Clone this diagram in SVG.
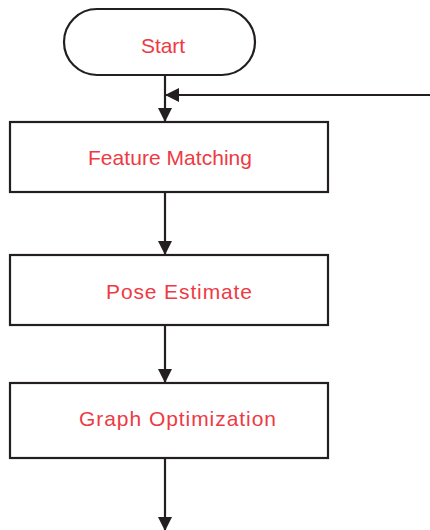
<svg xmlns="http://www.w3.org/2000/svg" width="430" height="530" viewBox="0 0 430 530">
<style>
.box{fill:#fff;stroke:#231f20;stroke-width:2.2}
.lbl{font-family:"Liberation Sans",Arial,sans-serif;font-size:21px;fill:#ee3a43;text-anchor:middle}
.edge{fill:none;stroke:#231f20;stroke-width:2.2}
</style>
<defs>
<marker id="ah" markerUnits="userSpaceOnUse" markerWidth="14" markerHeight="14" viewBox="0 0 14 14" refX="13" refY="7" orient="auto">
<path d="M0,0 L14,7 L0,14 Z" fill="#231f20"/>
</marker>
</defs>
<rect width="430" height="530" fill="#fff"/>
<g id="start">
<rect class="box" x="64" y="9" width="191" height="66" rx="33" ry="33"/>
<text class="lbl" x="163" y="53" textLength="44" lengthAdjust="spacing">Start</text>
</g>
<g id="feature-matching">
<rect class="box" x="10" y="122" width="318" height="70"/>
<text class="lbl" x="170" y="165" textLength="164" lengthAdjust="spacing">Feature Matching</text>
</g>
<g id="pose-estimate">
<rect class="box" x="10" y="255" width="318" height="70"/>
<text class="lbl" x="179" y="299" textLength="146" lengthAdjust="spacing">Pose Estimate</text>
</g>
<g id="graph-optimization">
<rect class="box" x="10" y="383" width="318" height="75"/>
<text class="lbl" x="177.5" y="426" textLength="197" lengthAdjust="spacing">Graph Optimization</text>
</g>
<g id="connectors">
<line class="edge" x1="165" y1="75" x2="165" y2="121" marker-end="url(#ah)"/>
<line class="edge" x1="430" y1="95" x2="166" y2="95" marker-end="url(#ah)"/>
<line class="edge" x1="165" y1="192" x2="165" y2="254" marker-end="url(#ah)"/>
<line class="edge" x1="165" y1="325" x2="165" y2="382" marker-end="url(#ah)"/>
<line class="edge" x1="165" y1="458" x2="165" y2="530" marker-end="url(#ah)"/>
</g>
</svg>
